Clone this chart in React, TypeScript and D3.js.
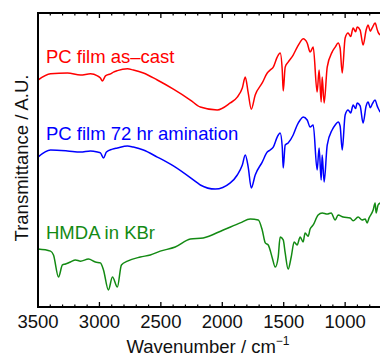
import React from "react";
import * as d3 from "d3";

// wavenumber (cm^-1), transmittance (A.U., offset per trace)
const asCast: [number, number][] = [
  [3500, 77.2], [3398, 79.3], [3260, 79.6], [3154, 78.9], [3073, 79.3], [3016, 78.6],
  [2992, 77.9], [2976, 76.9], [2951, 78.6], [2910, 79.3], [2886, 79.9], [2854, 80.4],
  [2772, 81.0], [2724, 80.6], [2642, 79.6], [2529, 77.2], [2398, 74.1], [2260, 70.4],
  [2179, 68.0], [2041, 67.0], [1935, 69.4], [1878, 71.4], [1837, 74.5], [1813, 78.2],
  [1789, 72.8], [1764, 67.3], [1732, 72.1], [1675, 76.2], [1634, 79.6], [1610, 80.6],
  [1585, 81.6], [1553, 85.0], [1529, 86.4], [1512, 80.6], [1504, 73.5], [1488, 81.6],
  [1464, 83.3], [1423, 85.7], [1390, 88.4], [1366, 90.1], [1342, 91.2], [1309, 89.8],
  [1285, 86.7], [1260, 88.4], [1228, 73.1], [1212, 80.6], [1195, 69.7], [1187, 78.2],
  [1171, 69.4], [1146, 81.6], [1106, 86.7], [1081, 88.4], [1057, 89.8], [1041, 88.1],
  [1024, 79.6], [1000, 91.5], [976, 93.2], [955, 92.0], [935, 94.9], [915, 93.6],
  [902, 95.2], [878, 94.2], [854, 89.1], [829, 94.2], [813, 95.9], [795, 93.8],
  [780, 94.9], [756, 96.6], [740, 94.5], [732, 93.5], [715, 92.5],
];

const amination: [number, number][] = [
  [3500, 51.0], [3398, 53.4], [3260, 53.1], [3154, 52.7], [3073, 53.1], [3016, 52.7],
  [2992, 52.4], [2967, 50.7], [2943, 52.7], [2894, 53.7], [2854, 54.1], [2772, 54.8],
  [2724, 54.4], [2642, 53.4], [2529, 51.0], [2398, 48.0], [2202, 42.2], [2179, 41.5],
  [2057, 40.1], [1935, 42.2], [1878, 44.9], [1837, 48.3], [1813, 51.7], [1789, 47.6],
  [1764, 40.5], [1732, 44.9], [1675, 49.3], [1634, 52.7], [1610, 53.4], [1585, 54.4],
  [1553, 57.8], [1529, 59.2], [1512, 54.4], [1504, 47.3], [1488, 55.1], [1464, 55.8],
  [1423, 58.5], [1390, 61.9], [1366, 63.6], [1342, 64.6], [1309, 63.6], [1285, 61.2],
  [1260, 61.9], [1228, 46.6], [1212, 54.1], [1195, 43.2], [1187, 51.7], [1171, 42.5],
  [1146, 55.1], [1106, 60.2], [1081, 61.9], [1057, 62.9], [1041, 61.6], [1024, 53.4],
  [1000, 65.3], [976, 67.0], [955, 66.0], [935, 68.7], [915, 67.5], [902, 69.4],
  [878, 68.4], [854, 62.6], [829, 68.4], [813, 69.7], [795, 67.8], [780, 69.0],
  [756, 70.4], [740, 68.5], [732, 67.7], [715, 66.3],
];

const hmda: [number, number][] = [
  [3500, 19.7], [3398, 19.0], [3374, 17.7], [3333, 10.2], [3301, 14.3], [3276, 14.6],
  [3236, 15.3], [3195, 16.0], [3154, 15.6], [3089, 16.3], [3033, 15.3], [2992, 15.0],
  [2967, 12.6], [2927, 5.8], [2894, 10.2], [2854, 6.8], [2821, 14.3], [2772, 15.6],
  [2667, 17.0], [2586, 17.7], [2505, 19.0], [2383, 20.4], [2260, 23.1], [2155, 23.5],
  [1992, 26.2], [1854, 28.6], [1772, 29.9], [1707, 29.6], [1675, 26.2], [1650, 21.8],
  [1626, 21.1], [1593, 16.7], [1569, 13.6], [1545, 17.0], [1529, 23.8], [1504, 22.8],
  [1488, 18.4], [1464, 12.9], [1439, 17.0], [1415, 22.1], [1391, 21.1], [1366, 23.8],
  [1342, 22.1], [1326, 25.2], [1301, 24.1], [1285, 26.5], [1260, 27.9], [1220, 31.3],
  [1187, 32.0], [1146, 31.6], [1114, 32.0], [1081, 29.6], [1057, 31.3], [1016, 30.6],
  [959, 30.3], [935, 29.3], [894, 30.6], [862, 29.6], [837, 29.9], [821, 28.6],
  [805, 30.3], [772, 33.0], [756, 35.4], [748, 32.0], [732, 34.7], [715, 35.4],
];

const majorTicks = [3500, 3000, 2500, 2000, 1500, 1000];
const minorTicks = d3.range(3400, 700, -100).filter((t) => t % 500 !== 0);

const series = [
  { name: "PC film as\u2013cast", data: asCast, color: "#ff0000", labelY: 83 },
  { name: "PC film 72 hr amination", data: amination, color: "#0000ff", labelY: 56.8 },
  { name: "HMDA in KBr", data: hmda, color: "#138a13", labelY: 23.1 },
];

const W = 380, H = 357;
const margin = { top: 13, left: 38, bottom: 50 };
const font = "'Liberation Sans', Arial, Helvetica, sans-serif";

export default function App() {
  const x = d3.scaleLinear().domain([3500, 700]).range([margin.left, margin.left + 344]);
  const y = d3.scaleLinear().domain([0, 100]).range([H - margin.bottom, margin.top]);
  const line = d3.line<[number, number]>()
    .x((d) => x(d[0]))
    .y((d) => y(d[1]))
    .curve(d3.curveMonotoneX);
  const [x0, x1] = x.range();
  const [yb, yt] = y.range();

  return (
    <svg width={W} height={H} style={{ position: "absolute", left: 0, top: 0 }} fontFamily={font}>
      <defs>
        <clipPath id="plot">
          <rect x={x0} y={yt} width={x1 - x0} height={yb - yt} />
        </clipPath>
      </defs>
      <rect width={W} height={H} fill="#fff" />
      <g clipPath="url(#plot)">
        {series.map((s) => (
          <path key={s.name} d={line(s.data) ?? ""} fill="none" stroke={s.color} strokeWidth={1.5} strokeLinejoin="round" />
        ))}
      </g>
      {series.map((s) => (
        <text key={s.name} x={46} y={y(s.labelY)} fill={s.color} fontSize={18.5}>{s.name}</text>
      ))}
      {/* ticks on top and bottom, pointing in */}
      {majorTicks.map((t) => (
        <g key={t}>
          <line x1={x(t)} x2={x(t)} y1={yb} y2={yb - 5} stroke="#000" strokeWidth={1.3} />
          <line x1={x(t)} x2={x(t)} y1={yt} y2={yt + 5} stroke="#000" strokeWidth={1.3} />
          <text x={x(t)} y={328} textAnchor="middle" fontSize={18.5} fill="#111">{t}</text>
        </g>
      ))}
      {minorTicks.map((t) => (
        <g key={t}>
          <line x1={x(t)} x2={x(t)} y1={yb} y2={yb - 2.5} stroke="#000" strokeWidth={1.2} />
          <line x1={x(t)} x2={x(t)} y1={yt} y2={yt + 2.5} stroke="#000" strokeWidth={1.2} />
        </g>
      ))}
      <rect x={x0} y={yt} width={x1 - x0} height={yb - yt} fill="none" stroke="#000" strokeWidth={2} />
      <text x={208} y={353} textAnchor="middle" fontSize={18.5} fill="#111">
        Wavenumber / cm<tspan fontSize={12} dy={-8}>{"\u22121"}</tspan>
      </text>
      <text transform={`translate(28,158) rotate(-90)`} textAnchor="middle" fontSize={18.5} fill="#111">
        Transmittance / A.U.
      </text>
    </svg>
  );
}
